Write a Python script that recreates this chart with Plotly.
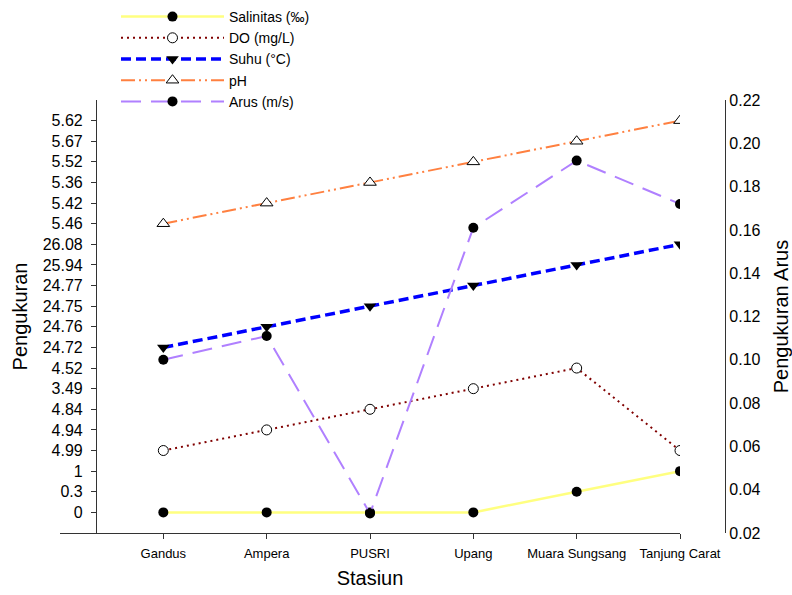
import plotly.graph_objects as go

# Sampling stations along the river
stations = ["Gandus", "Ampera", "PUSRI", "Upang", "Muara Sungsang", "Tanjung Carat"]

# Water quality parameters (left axis, each value shown as its own tick)
salinitas = [0, 0, 0, 0, 0.3, 1]
do_mgl = [4.99, 4.94, 4.84, 3.49, 4.52, 4.99]
suhu = [24.72, 24.76, 24.75, 24.77, 25.94, 26.08]
ph = [5.46, 5.42, 5.36, 5.52, 5.67, 5.62]

# Current speed (right axis, m/s)
arus = [0.100, 0.111, 0.029, 0.161, 0.192, 0.172]

# Left-axis tick labels, bottom to top
left_ticks = ["0", "0.3", "1", "4.99", "4.94", "4.84", "3.49", "4.52",
              "24.72", "24.76", "24.75", "24.77", "25.94", "26.08",
              "5.46", "5.42", "5.36", "5.52", "5.67", "5.62"]


def as_label(values):
    return [f"{v:g}" for v in values]


FONT = "Liberation Sans, Arial, sans-serif"
AXIS_COLOR = "#333333"

fig = go.Figure()

fig.add_trace(go.Scatter(
    x=stations, y=as_label(salinitas), name="Salinitas (‰)", mode="lines+markers",
    line=dict(color="#FFFF80", width=2.5),
    marker=dict(symbol="circle", size=10, color="black"),
))
fig.add_trace(go.Scatter(
    x=stations, y=as_label(do_mgl), name="DO (mg/L)", mode="lines+markers",
    line=dict(color="#800000", width=2, dash="2px,4px"),
    marker=dict(symbol="circle", size=10, color="white", line=dict(color="black", width=1)),
))
fig.add_trace(go.Scatter(
    x=stations, y=as_label(suhu), name="Suhu (°C)", mode="lines+markers",
    line=dict(color="#0000FF", width=3.5, dash="10px,5px"),
    marker=dict(symbol="triangle-down", size=11, color="black"),
))
fig.add_trace(go.Scatter(
    x=stations, y=as_label(ph), name="pH", mode="lines+markers",
    line=dict(color="#FF8040", width=2, dash="14px,4px,2px,4px,2px,4px"),
    marker=dict(symbol="triangle-up", size=11, color="white", line=dict(color="black", width=1)),
))
fig.add_trace(go.Scatter(
    x=stations, y=arus, name="Arus (m/s)", mode="lines+markers", yaxis="y2",
    line=dict(color="#B080FF", width=2, dash="20px,10px"),
    marker=dict(symbol="circle", size=10, color="black"),
))

W, H = 792, 595
ML, MR, MT, MB = 60, 67, 100, 62
plot_w = W - ML - MR
plot_h = H - MT - MB
x_end = (680 - ML) / plot_w

fig.update_layout(
    width=W, height=H,
    margin=dict(l=ML, r=MR, t=MT, b=MB, autoexpand=False),
    paper_bgcolor="white", plot_bgcolor="white",
    font=dict(family=FONT, color="black"),
    showlegend=True,
    legend=dict(
        x=(116 - ML) / plot_w, y=1 + (MT - 1) / plot_h,
        xanchor="left", yanchor="top",
        bgcolor="rgba(0,0,0,0)", font=dict(size=14, family=FONT),
        itemwidth=103, tracegroupgap=0,
    ),
    xaxis=dict(
        type="category", domain=[0, x_end], range=[-1, 5], automargin=False,
        showline=True, linecolor=AXIS_COLOR, linewidth=1.2,
        ticks="outside", ticklen=5, tickcolor=AXIS_COLOR, ticklabelstandoff=3,
        tickfont=dict(size=13, family=FONT), showgrid=False, zeroline=False,
        title=dict(text="Stasiun", font=dict(size=20, family=FONT), standoff=11),
    ),
    yaxis=dict(
        type="category", categoryorder="array", categoryarray=left_ticks,
        range=[-1, 20], anchor="free", position=(96 - ML) / plot_w, automargin=False,
        showline=True, linecolor=AXIS_COLOR, linewidth=1.2,
        ticks="outside", ticklen=5, tickcolor=AXIS_COLOR, ticklabelstandoff=5,
        tickfont=dict(size=16, family=FONT), showgrid=False, zeroline=False,
        title=dict(text="Pengukuran", font=dict(size=20, family=FONT), standoff=8),
    ),
    yaxis2=dict(
        overlaying="y", side="right", anchor="free", position=1.0, automargin=False,
        range=[0.02, 0.22], dtick=0.02, tick0=0.02, tickformat=".2f",
        showline=True, linecolor=AXIS_COLOR, linewidth=1.2,
        ticks="", tickfont=dict(size=16, family=FONT), showgrid=False, zeroline=False,
        title=dict(text="Pengukuran Arus", font=dict(size=20, family=FONT), standoff=17),
    ),
)

fig.write_html("out.html")
